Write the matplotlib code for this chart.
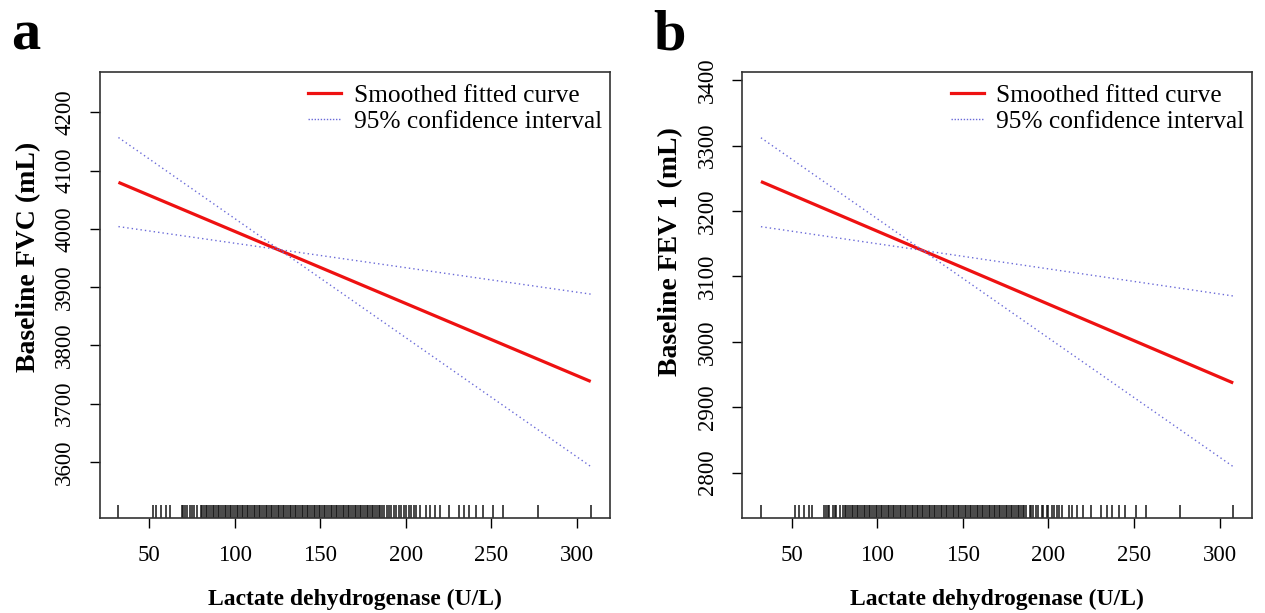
import matplotlib
matplotlib.use("Agg")
import matplotlib.pyplot as plt
from matplotlib.lines import Line2D

plt.rcParams['font.family'] = ['Liberation Serif', 'DejaVu Serif']

# fitted line end points, x = LDH (U/L)
ldh_ends = [32, 308]
fvc_fit = [4080, 3738]
fvc_ci_a = [4157, 3592]
fvc_ci_b = [4004, 3888]
fev_fit = [3245, 2937]
fev_ci_a = [3312, 2809]
fev_ci_b = [3176, 3070]

# rug of observed LDH values
rug_ldh = [32, 52, 54, 57, 60, 62, 69, 70, 71, 72,
           74, 75, 76, 78, 80, 81, 82, 83, 84, 85, 86, 87, 88, 89, 90,
           91, 92, 93, 94, 95, 96, 97, 98, 99, 100, 101, 102, 103, 104, 105,
           106, 107, 108, 109, 110, 111, 112, 113, 114, 115, 116, 117, 118,
           119, 120, 121, 122, 123, 124, 125, 126, 127, 128, 129, 130, 131,
           132, 133, 134, 135, 136, 137, 138, 139, 140, 141, 142, 143, 144,
           145, 146, 147, 148, 149, 150, 151, 152, 153, 154, 155, 156, 157,
           158, 159, 160, 161, 162, 163, 164, 165, 166, 167, 168, 169, 170,
           171, 172, 173, 174, 175, 176, 177, 178, 179, 180, 181, 182, 183,
           184, 185, 186, 187, 189, 190, 191, 193, 194, 196, 197, 199, 200,
           202, 203, 205, 206, 208,
           212, 214, 217, 220, 225, 231, 234, 237, 241, 245, 251, 257, 277, 308]

panels = [
    ("a", "Baseline FVC (mL)", fvc_fit, fvc_ci_a, fvc_ci_b,
     (3503, 4270), [3600, 3700, 3800, 3900, 4000, 4100, 4200], 0.0787, 0.586),
    ("b", "Baseline FEV 1 (mL)", fev_fit, fev_ci_a, fev_ci_b,
     (2730, 3413), [2800, 2900, 3000, 3100, 3200, 3300, 3400], 0.5866, 0.597),
]

fig = plt.figure(figsize=(12.65, 6.13), dpi=100)
red = "#ee1111"
blue = "#6a6ad8"

for letter, ylab, fit, ci1, ci2, ylim, yticks, left, ylab_pos in panels:
    ax = fig.add_axes([left, 0.1545, 0.4032, 0.7285])
    ax.plot(ldh_ends, fit, color=red, lw=2.3, solid_capstyle="butt")
    ax.plot(ldh_ends, ci1, color=blue, lw=1.0, linestyle=(0, (1, 2.2)))
    ax.plot(ldh_ends, ci2, color=blue, lw=1.0, linestyle=(0, (1, 2.2)))
    ax.vlines(rug_ldh, 0, 0.03, transform=ax.get_xaxis_transform(),
              color="#111111", lw=1.2, alpha=0.9)

    ax.set_xlim(20.96, 319.04)
    ax.set_ylim(*ylim)
    ax.set_xticks([50, 100, 150, 200, 250, 300])
    ax.set_yticks(yticks)
    ax.tick_params(axis="x", length=7.5, width=1, pad=12, labelsize=16.5)
    ax.tick_params(axis="y", length=7.5, width=1, pad=10, labelsize=16.5)
    for lbl in ax.get_yticklabels():
        lbl.set_rotation(90)
        lbl.set_va("center")
    for sp in ax.spines.values():
        sp.set_linewidth(1.2)
        sp.set_color("#333333")

    ax.set_xlabel("Lactate dehydrogenase (U/L)", fontsize=17,
                  fontweight="bold", labelpad=16)
    ax.set_ylabel(ylab, fontsize=20, fontweight="bold", labelpad=6)
    ax.yaxis.set_label_coords(-0.115, ylab_pos)

    handles = [Line2D([], [], color=red, lw=2.3),
               Line2D([], [], color=blue, lw=1.0, linestyle=(0, (1, 1.2)))]
    ax.legend(handles, ["Smoothed fitted curve", "95% confidence interval"],
              loc="upper right", bbox_to_anchor=(1.0, 0.99), frameon=False,
              fontsize=18.3, handlelength=1.3, handletextpad=0.5,
              labelspacing=0.15, borderaxespad=0.1, borderpad=0.2)

    fig.text(left - 0.07, 0.985, letter, fontsize=42, fontweight="bold",
             va="top", ha="left")

fig.savefig("out.png", dpi=100)
